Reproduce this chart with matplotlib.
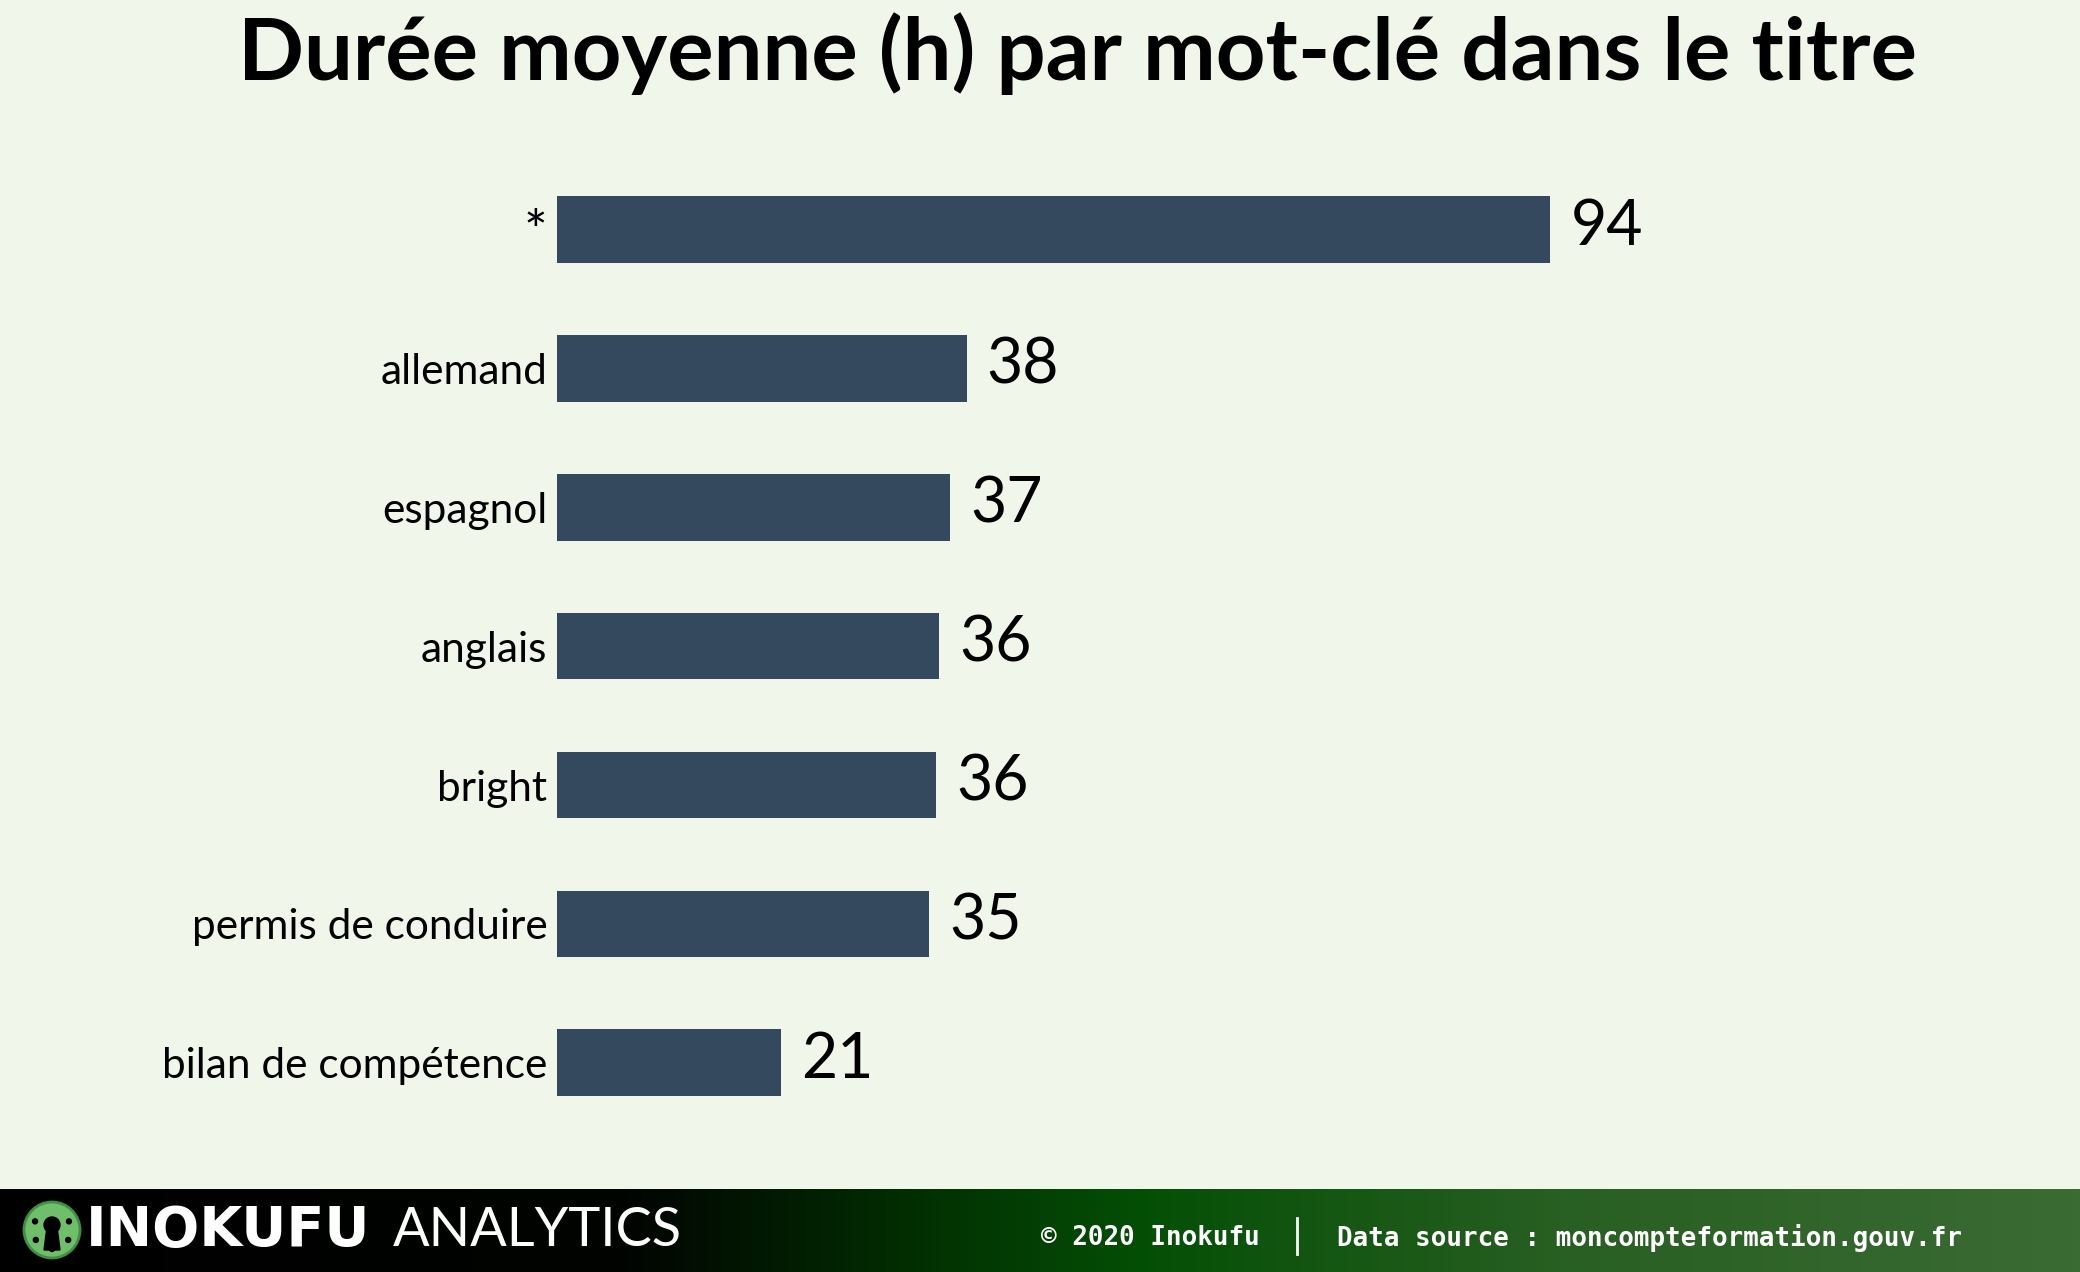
import numpy as np
import matplotlib.pyplot as plt
from matplotlib.colors import LinearSegmentedColormap
from matplotlib.patches import Circle, Polygon

# data
keywords = ['*', 'allemand', 'espagnol', 'anglais', 'bright', 'permis de conduire', 'bilan de compétence']
hours = [94.3, 38.9, 37.3, 36.3, 36.0, 35.3, 21.3]

bg = '#f0f6e9'
bar_color = '#34495e'

fig = plt.figure(figsize=(20.8, 12.72), dpi=100, facecolor=bg)

# main bar chart
ax = fig.add_axes([557 / 2080, 0.110, 1243 / 2080, 0.764])
ax.set_facecolor(bg)
y = np.arange(len(keywords))
ax.barh(y, hours, height=0.48, color=bar_color)
ax.set_xlim(0, 118.0)
ax.set_ylim(len(keywords) - 0.5, -0.5)
ax.set_yticks(y)
ax.set_yticklabels(keywords, fontsize=30.5, family='Lato')
ax.get_yticklabels()[0].set_fontsize(40)
ax.tick_params(axis='y', length=0, pad=7)
ax.set_xticks([])
for s in ax.spines.values():
    s.set_visible(False)

for yi, v in zip(y, hours):
    ax.text(v + 1.9, yi - 0.02, str(int(v)), va='center', ha='left',
            fontsize=45, family='Lato', color='black')

fig.text(0.518, 0.958, 'Durée moyenne (h) par mot-clé dans le titre',
         ha='center', va='center', fontsize=62.5, fontweight='bold', family='Lato')

# footer band
fh = 83
fax = fig.add_axes([0, 0, 1, fh / 1272])
cmap = LinearSegmentedColormap.from_list('foot', [
    (0.0, '#000000'), (0.30, '#010401'), (0.45, '#023202'),
    (0.55, '#044f06'), (0.75, '#285f22'), (1.0, '#3a6b33')])
grad = np.linspace(0, 1, 512).reshape(1, -1)
fax.imshow(grad, cmap=cmap, aspect='auto', extent=[0, 2080, 0, fh])
fax.set_xlim(0, 2080)
fax.set_ylim(0, fh)
fax.axis('off')

# logo
fax.add_patch(Circle((52, 42), 28, color='#6fbf6a', zorder=3))
fax.add_patch(Circle((52, 42), 28, fill=False, ec='#3f8f45', lw=2, zorder=4))
fax.add_patch(Circle((52, 47), 8, color='black', zorder=5))
fax.add_patch(Polygon([(47, 45), (57, 45), (60, 22), (44, 22)], closed=True, color='black', zorder=5))
for ang in np.linspace(0.35 * np.pi, 1.65 * np.pi, 5):
    fax.add_patch(Circle((52 + 19 * np.sin(ang), 42 + 19 * np.cos(ang)), 2.5, color='black', zorder=5))

fax.text(86, 41, 'INOKUFU', color='white', fontsize=40, fontweight='bold',
         family='DejaVu Sans', ha='left', va='center', zorder=6)
fax.text(393, 41, 'ANALYTICS', color='white', fontsize=39, fontweight='normal',
         family='Lato', ha='left', va='center', zorder=6)

fax.text(1041, 34, '© 2020 Inokufu', color='white', fontsize=18.6, fontweight='bold',
         family='DejaVu Sans Mono', ha='left', va='center', zorder=6)
fax.plot([1297, 1297], [18, 54], color='white', lw=2, zorder=6)
fax.text(1337, 34, 'Data source : moncompteformation.gouv.fr', color='white', fontsize=18.6,
         fontweight='bold', family='DejaVu Sans Mono', ha='left', va='center', zorder=6)

fig.savefig('out.png', dpi=100, facecolor=bg)
